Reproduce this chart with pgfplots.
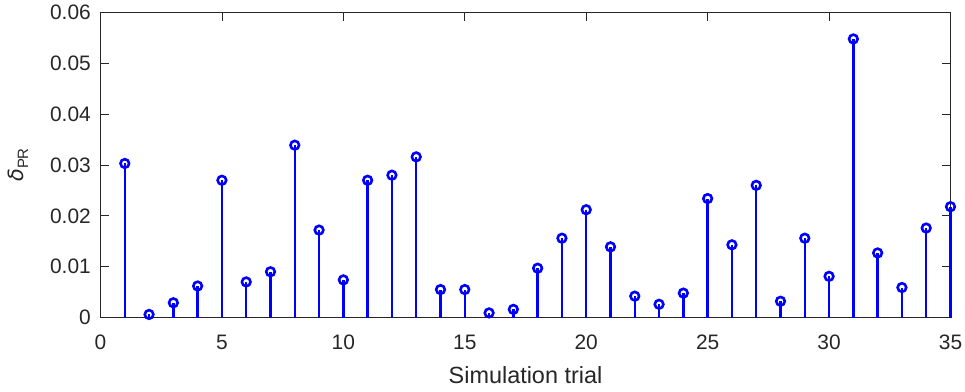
\documentclass[border=0pt]{standalone}
\usepackage{pgfplots}
\pgfplotsset{compat=1.18}
\usepackage{fontspec}
\setmainfont{Liberation Sans}
\setsansfont{Liberation Sans}
\newfontfamily\dejavu{DejaVu Sans}
\definecolor{axgray}{RGB}{38,38,38}
\begin{document}
\begin{tikzpicture}
\begin{axis}[
  scale only axis,
  at={(0,0)}, anchor=south west,
  width=850bp, height=305bp,
  xmin=0, xmax=35, ymin=0, ymax=0.06,
  xtick={0,5,...,35},
  ytick={0,0.01,0.02,0.03,0.04,0.05,0.06},
  yticklabels={0,0.01,0.02,0.03,0.04,0.05,0.06},
  tick align=inside,
  major tick length=8.5bp,
  axis line style={axgray, line width=0.8bp},
  every tick/.style={axgray, line width=0.8bp},
  tick label style={font=\fontsize{21}{22}\selectfont, text=axgray, inner sep=0pt},
  xticklabel style={anchor=north, yshift=-17bp},
  yticklabel style={anchor=east, xshift=-9.5bp},
  /pgf/number format/assume math mode=true,
  xlabel={Simulation trial},
  ylabel={{\fontsize{21}{22}\dejavu\itshape δ}\raisebox{-4.5bp}{\fontsize{15}{16}\selectfont PR}},
  label style={font=\fontsize{23.5}{25}\selectfont, text=axgray, inner sep=0pt},
  xlabel style={at={(axis description cs:0.5,-0.1885)}, anchor=center},
  ylabel style={at={(axis description cs:-0.097,0.5)}, anchor=center},
  scaled y ticks=false,
  clip=false,
]
\addplot+[ycomb, color=blue, line width=2.5bp, mark=o, mark size=4.3bp, mark options={color=blue, line width=2.6bp, fill=none}] coordinates {
(1,0.0303) (2,0.0006) (3,0.0029) (4,0.0062) (5,0.0270) (6,0.0070) (7,0.0090)
(8,0.0339) (9,0.0172) (10,0.0074) (11,0.0270) (12,0.0280) (13,0.0316) (14,0.0055)
(15,0.0055) (16,0.0009) (17,0.0016) (18,0.0097) (19,0.0156) (20,0.0212) (21,0.0139)
(22,0.0042) (23,0.0026) (24,0.0048) (25,0.0234) (26,0.0143) (27,0.0260) (28,0.0032)
(29,0.0156) (30,0.0081) (31,0.0548) (32,0.0127) (33,0.0059) (34,0.0176) (35,0.0218)
};
\end{axis}
\pgfresetboundingbox
\path (-100.5bp,-74.5bp) rectangle (864.5bp,317.5bp);
\end{tikzpicture}
\end{document}
